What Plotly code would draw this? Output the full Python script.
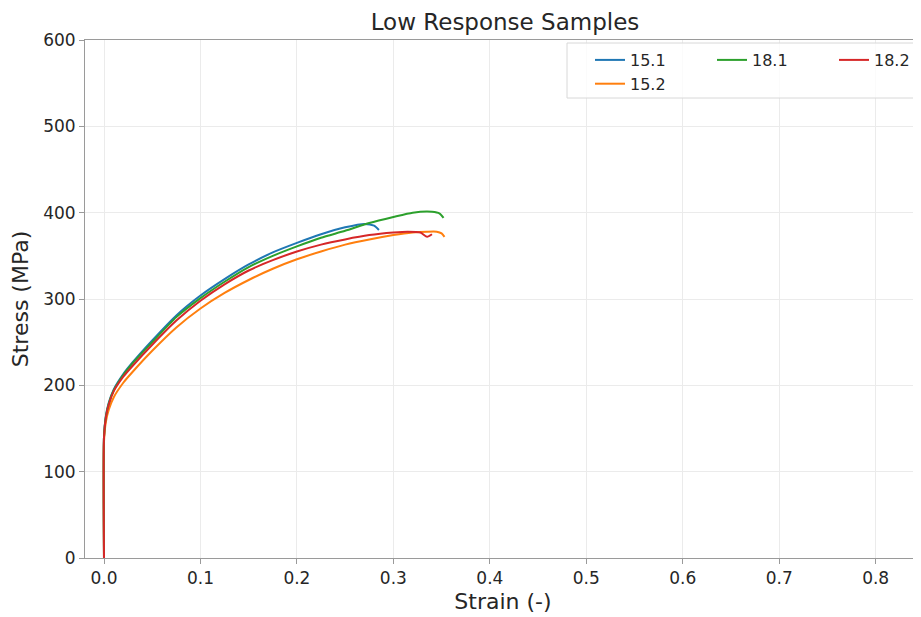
import plotly.graph_objects as go

# Data (strain [-], stress [MPa])
strain_15_1 = [0.0, 0.0, 0.002, 0.005, 0.01, 0.02, 0.03, 0.05, 0.075, 0.1, 0.125, 0.15, 0.175, 0.2, 0.225, 0.25, 0.27, 0.28, 0.285]
stress_15_1 = [0, 140, 165, 180, 195, 213, 227, 252, 281, 304, 323, 340, 354, 365, 375, 383, 387, 385, 380]

strain_15_2 = [0.0, 0.0, 0.002, 0.005, 0.01, 0.02, 0.03, 0.05, 0.075, 0.1, 0.125, 0.15, 0.175, 0.2, 0.225, 0.25, 0.275, 0.3, 0.32, 0.335, 0.345, 0.35, 0.353]
stress_15_2 = [0, 135, 158, 172, 186, 203, 216, 240, 267, 289, 307, 322, 335, 346, 355, 363, 369, 374, 377, 378, 378, 376, 372]

strain_18_1 = [0.0, 0.0, 0.002, 0.005, 0.01, 0.02, 0.03, 0.05, 0.075, 0.1, 0.125, 0.15, 0.175, 0.2, 0.225, 0.25, 0.275, 0.3, 0.32, 0.34, 0.348, 0.352]
stress_18_1 = [0, 140, 164, 179, 194, 212, 226, 250, 279, 301, 320, 337, 350, 361, 371, 379, 388, 395, 400, 401, 399, 394]

strain_18_2 = [0.0, 0.0, 0.002, 0.005, 0.01, 0.02, 0.03, 0.05, 0.075, 0.1, 0.125, 0.15, 0.175, 0.2, 0.225, 0.25, 0.275, 0.3, 0.315, 0.328, 0.335, 0.34]
stress_18_2 = [0, 140, 163, 178, 193, 210, 223, 247, 275, 298, 317, 333, 345, 355, 363, 369, 374, 377, 378, 377, 372, 375]

series = [
    ("15.1", strain_15_1, stress_15_1, "#1f77b4", "legend"),
    ("15.2", strain_15_2, stress_15_2, "#ff7f0e", "legend"),
    ("18.1", strain_18_1, stress_18_1, "#2ca02c", "legend2"),
    ("18.2", strain_18_2, stress_18_2, "#d62728", "legend3"),
]

x_ticks = [0.0, 0.1, 0.2, 0.3, 0.4, 0.5, 0.6, 0.7, 0.8]
y_ticks = [0, 100, 200, 300, 400, 500, 600]

W, H = 921, 617
OFF = 8  # page body margin offset in the screenshot
# plot area in screenshot pixels
PL, PR, PT, PB = 85, 921, 40, 558


def paper_x(sx):
    return (sx - PL) / (PR - PL)


def paper_y(sy):
    return (PB - sy) / (PB - PT)


fig = go.Figure()
for name, xs, ys, color, leg in series:
    fig.add_trace(go.Scatter(
        x=xs, y=ys, mode="lines", name=name, legend=leg,
        line=dict(color=color, width=2, shape="spline", smoothing=0.6),
    ))

font_family = "DejaVu Sans"
text_col = "#262626"
spine_col = "#9a9a9a"


def leg(sx):
    return dict(
        x=paper_x(sx), xanchor="left", y=paper_y(43), yanchor="top",
        orientation="v", font=dict(size=16, color=text_col, family=font_family),
        bgcolor="rgba(0,0,0,0)", borderwidth=0, tracegroupgap=0,
    )


fig.update_layout(
    width=W, height=H,
    margin=dict(l=PL - OFF, r=W - (PR - OFF), t=PT - OFF, b=H - (PB - OFF)),
    paper_bgcolor="white", plot_bgcolor="white",
    font=dict(family=font_family, color=text_col),
    title=dict(text="Low Response Samples", x=(505 - OFF) / W, xanchor="center",
               y=1 - (22 - OFF) / H, yanchor="middle",
               font=dict(size=23, color=text_col)),
    showlegend=True,
    legend=leg(590),
    legend2=leg(712),
    legend3=leg(834),
    shapes=[dict(
        type="rect", xref="paper", yref="paper",
        x0=paper_x(567), x1=paper_x(917),
        y0=paper_y(98), y1=paper_y(43),
        line=dict(color="#d8d8d8", width=1), fillcolor="rgba(255,255,255,0.8)",
        layer="above",
    )],
    xaxis=dict(
        range=[-0.0197, 0.847], tickvals=x_ticks,
        ticktext=[f"{v:.1f}" for v in x_ticks],
        showgrid=True, gridcolor="#ebebeb", gridwidth=1,
        zeroline=False, showline=True, linecolor=spine_col, linewidth=1, mirror=True,
        ticks="outside", ticklen=5, tickcolor=spine_col,
        tickfont=dict(size=17), automargin=False,
        title=dict(text="Strain (-)", font=dict(size=22), standoff=6),
    ),
    yaxis=dict(
        range=[0, 600], tickvals=y_ticks,
        showgrid=True, gridcolor="#ebebeb", gridwidth=1,
        zeroline=False, showline=True, linecolor=spine_col, linewidth=1, mirror=False,
        ticks="outside", ticklen=5, tickcolor=spine_col,
        tickfont=dict(size=17), automargin=False,
        title=dict(text="Stress (MPa)", font=dict(size=22), standoff=14),
    ),
)

fig.write_html("out.html")
